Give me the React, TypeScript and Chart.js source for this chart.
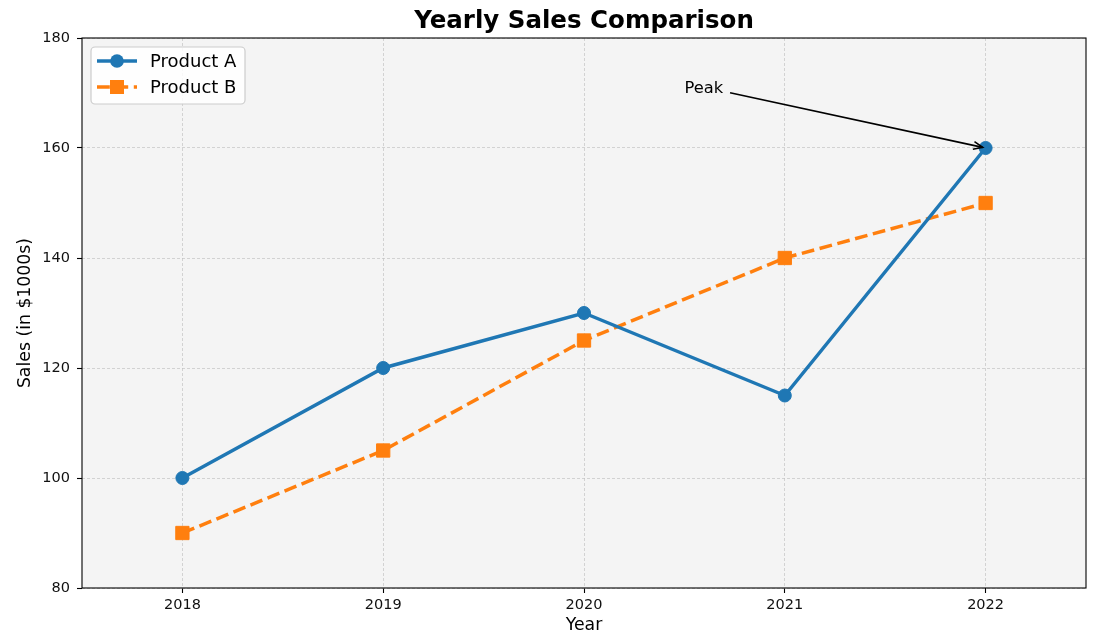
import { useEffect, useRef } from "react";
import { Chart, registerables } from "chart.js";

Chart.register(...registerables);

// Sales figures (in $1000s)
const years = [2018, 2019, 2020, 2021, 2022];
const productA = [100, 120, 130, 115, 160];
const productB = [90, 105, 125, 140, 150];
const yTickValues = [80, 100, 120, 140, 160, 180];

const seriesNames = ["Product A", "Product B"];
const seriesColors = ["#1f77b4", "#ff7f0e"];

const chartTitle = "Yearly Sales Comparison";
const xTitle = "Year";
const yTitle = "Sales (in $1000s)";

// Annotation: label placed at (2020.5, 170) pointing to the 2022 peak of Product A
const peakLabel = "Peak";
const peakLabelPos = [2020.5, 170];
const peakPoint = [2022, 160];

const FONT = "'DejaVu Sans', Verdana, sans-serif";
const DASH = [12.8, 5.6];

const decorPlugin = {
  id: "decor",
  beforeDraw(chart: any) {
    const { ctx, chartArea: a } = chart;
    ctx.save();
    ctx.fillStyle = "#f4f4f4";
    ctx.fillRect(a.left, a.top, a.right - a.left, a.bottom - a.top);
    ctx.restore();
  },
  afterDraw(chart: any) {
    const { ctx, chartArea: a, scales } = chart;
    const xs = scales.x;
    const ys = scales.y;
    ctx.save();

    // frame around the plot area
    ctx.strokeStyle = "#000";
    ctx.lineWidth = 1.1;
    ctx.strokeRect(a.left, a.top, a.right - a.left, a.bottom - a.top);

    // title
    ctx.fillStyle = "#000";
    ctx.font = `bold 24.5px ${FONT}`;
    ctx.textAlign = "center";
    ctx.textBaseline = "alphabetic";
    ctx.fillText(chartTitle, (a.left + a.right) / 2, 28);

    // annotation
    ctx.font = `16.3px ${FONT}`;
    ctx.textAlign = "left";
    const tx = xs.getPixelForValue(peakLabelPos[0]);
    const ty = ys.getPixelForValue(peakLabelPos[1]);
    ctx.fillText(peakLabel, tx, ty);
    const tw = ctx.measureText(peakLabel).width;
    const cx = tx + tw / 2;
    const cy = ty - 6;
    const px = xs.getPixelForValue(peakPoint[0]);
    const py = ys.getPixelForValue(peakPoint[1]);
    const dx = px - cx;
    const dy = py - cy;
    const len = Math.hypot(dx, dy);
    const ux = dx / len;
    const uy = dy / len;
    const sx = tx + tw + 7;
    const sy = cy + uy * ((sx - cx) / ux);
    const ex = px - ux * 3;
    const ey = py - uy * 3;
    ctx.strokeStyle = "#000";
    ctx.lineWidth = 1.6;
    ctx.beginPath();
    ctx.moveTo(sx, sy);
    ctx.lineTo(ex, ey);
    ctx.stroke();
    const ang = Math.atan2(uy, ux);
    const hl = 10;
    const ha = 0.4;
    ctx.beginPath();
    ctx.moveTo(ex - hl * Math.cos(ang - ha), ey - hl * Math.sin(ang - ha));
    ctx.lineTo(ex, ey);
    ctx.lineTo(ex - hl * Math.cos(ang + ha), ey - hl * Math.sin(ang + ha));
    ctx.stroke();

    // legend
    const bx = a.left + 9;
    const by = a.top + 9;
    const bw = 154;
    const bh = 57;
    ctx.beginPath();
    ctx.roundRect(bx, by, bw, bh, 4);
    ctx.fillStyle = "rgba(255,255,255,0.85)";
    ctx.fill();
    ctx.strokeStyle = "#cccccc";
    ctx.lineWidth = 1.2;
    ctx.stroke();
    ctx.font = `18px ${FONT}`;
    ctx.textBaseline = "middle";
    for (let i = 0; i < seriesNames.length; i++) {
      const rowY = by + 14 + i * 26;
      const lx0 = bx + 6;
      const lx1 = bx + 46;
      ctx.strokeStyle = seriesColors[i];
      ctx.fillStyle = seriesColors[i];
      ctx.lineWidth = 3.5;
      ctx.setLineDash(i === 1 ? DASH : []);
      ctx.beginPath();
      ctx.moveTo(lx0, rowY);
      ctx.lineTo(lx1, rowY);
      ctx.stroke();
      ctx.setLineDash([]);
      const mx = (lx0 + lx1) / 2;
      if (i === 0) {
        ctx.beginPath();
        ctx.arc(mx, rowY, 6.8, 0, Math.PI * 2);
        ctx.fill();
      } else {
        ctx.fillRect(mx - 7, rowY - 7, 14, 14);
      }
      ctx.fillStyle = "#000";
      ctx.fillText(seriesNames[i], bx + 59, rowY + 1);
    }
    ctx.restore();
  },
};

const gridOpts = {
  color: "rgba(190,190,190,0.8)",
  lineWidth: 0.8,
  tickColor: "#000",
  tickLength: 5,
  tickWidth: 1.1,
  tickBorderDash: [],
  tickBorderDashOffset: 0,
};

export default function App() {
  const canvasRef = useRef<HTMLCanvasElement | null>(null);

  useEffect(() => {
    const canvas = canvasRef.current;
    if (!canvas) return;
    Chart.defaults.font.family = FONT;
    const chart = new Chart(canvas, {
      type: "line",
      data: {
        datasets: [
          {
            label: seriesNames[0],
            data: years.map((y, i) => ({ x: y, y: productA[i] })),
            borderColor: seriesColors[0],
            backgroundColor: seriesColors[0],
            borderWidth: 3.5,
            pointStyle: "circle",
            pointRadius: 6.5,
            pointBorderWidth: 1,
            tension: 0,
            fill: false,
          },
          {
            label: seriesNames[1],
            data: years.map((y, i) => ({ x: y, y: productB[i] })),
            borderColor: seriesColors[1],
            backgroundColor: seriesColors[1],
            borderWidth: 3.5,
            borderDash: DASH,
            pointStyle: "rect",
            pointRadius: 9.4,
            pointBorderWidth: 1,
            tension: 0,
            fill: false,
          },
        ],
      },
      options: {
        responsive: false,
        animation: false,
        layout: { padding: { top: 38, right: 26, left: 0, bottom: 0 } },
        plugins: {
          legend: { display: false },
          title: { display: false },
          tooltip: { enabled: false },
        },
        scales: {
          x: {
            type: "linear",
            min: 2017.5,
            max: 2022.5,
            afterBuildTicks: (scale: any) => {
              scale.ticks = years.map((v) => ({ value: v }));
            },
            afterFit: (scale: any) => {
              scale.height = 51;
            },
            ticks: {
              color: "#111",
              font: { size: 14.5 },
              padding: 4,
              maxRotation: 0,
              callback: (v: any) => String(v),
            },
            grid: gridOpts,
            border: { display: false, dash: [3, 2] },
            title: {
              display: true,
              text: xTitle,
              color: "#000",
              font: { size: 17.3 },
              padding: { top: 0, bottom: 3 },
            },
          },
          y: {
            min: 80,
            max: 180,
            afterBuildTicks: (scale: any) => {
              scale.ticks = yTickValues.map((v) => ({ value: v }));
            },
            afterFit: (scale: any) => {
              scale.width = 82;
            },
            ticks: {
              color: "#111",
              font: { size: 14.5 },
              padding: 7,
            },
            grid: gridOpts,
            border: { display: false, dash: [3, 2] },
            title: {
              display: true,
              text: yTitle,
              color: "#000",
              font: { size: 17.3 },
              padding: { top: 15, bottom: 0 },
            },
          },
        },
      },
      plugins: [decorPlugin],
    });
    return () => chart.destroy();
  }, []);

  return (
    <div style={{ position: "absolute", left: 0, top: 0, width: 1112, height: 639, background: "#fff" }}>
      <canvas ref={canvasRef} width={1112} height={639} />
    </div>
  );
}
